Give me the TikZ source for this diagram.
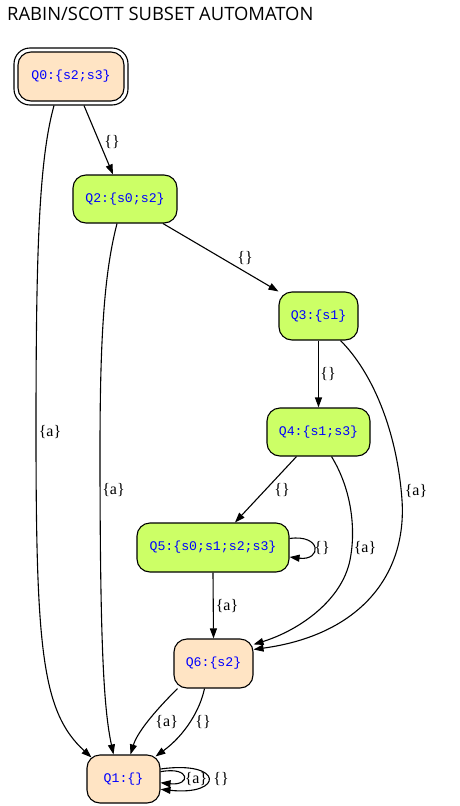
\documentclass[tikz,border=0pt]{standalone}
\usepackage{fontspec}
\setmainfont{Liberation Serif}
\newfontfamily\titlefont{Open Sans}
\newfontfamily\statefont{Liberation Mono}
\usetikzlibrary{arrows.meta,calc}
\definecolor{bisque}{HTML}{FFE4C4}
\definecolor{limefill}{HTML}{CCFF66}
\definecolor{qblue}{HTML}{0000FF}
\begin{document}
\begin{tikzpicture}[x=1pt,y=-1pt,
  statebox/.style={draw, line width=1.1pt, rounded corners=13pt, minimum height=48pt,
    inner sep=0pt, font=\statefont\fontsize{13.2}{13.2}\selectfont, text=qblue},
  palebox/.style={statebox, fill=bisque},
  limebox/.style={statebox, fill=limefill},
  outerbox/.style={draw, line width=1.1pt, rounded corners=16pt, inner sep=0pt},
  edge/.style={line width=1.1pt, -{Triangle[length=10pt,width=7pt]}},
  lbl/.style={font=\fontsize{16}{16}\selectfont, inner sep=0pt}]
\useasboundingbox (0,0) rectangle (459,806);
\fill[white] (0,0) rectangle (459,806);
\node[anchor=base west, inner sep=0pt, font=\titlefont\fontsize{18.4}{18.4}\selectfont] (title) at (7,20.5) {RABIN/SCOTT SUBSET AUTOMATON};

\node[outerbox, minimum width=114pt, minimum height=57pt] (q0o) at (71,76.5) {};
\node[palebox, minimum width=106pt, minimum height=49pt] (q0) at (71,76.5) {Q0:\{s2;s3\}};
\node[limebox, minimum width=104pt] (q2) at (125,199) {Q2:\{s0;s2\}};
\node[limebox, minimum width=79pt] (q3) at (318.5,316) {Q3:\{s1\}};
\node[limebox, minimum width=103pt] (q4) at (318.5,432) {Q4:\{s1;s3\}};
\node[limebox, minimum width=152pt, minimum height=49pt] (q5) at (213,547.5) {Q5:\{s0;s1;s2;s3\}};
\node[palebox, minimum width=79pt, minimum height=49pt] (q6) at (213.5,663.5) {Q6:\{s2\}};
\node[palebox, minimum width=73pt] (q1) at (123.5,779) {Q1:\{\}};

% edges
\draw[edge] ([xshift=13pt]q0o.south) -- ([xshift=-12pt]q2.north);
\draw[edge] ([xshift=-17pt]q0o.south) .. controls (39,160) and (36,250) .. (36,430)
  .. controls (36,650) and (42,712) .. ($(q1.north west)+(5,3)$);
\draw[edge] ([xshift=-8pt]q2.south) .. controls (105,270) and (100,330) .. (100,450)
  .. controls (100,650) and (104,710) .. ([xshift=-11.5pt]q2.south |- q1.north);
\draw[edge] ([xshift=38pt]q2.south) -- (q3.north west);
\draw[edge] (q3.south) -- (q4.north);
\draw[edge] ([xshift=22pt]q3.south) .. controls (372,372) and (397,430) .. (402,500)
  .. controls (407,575) and (360,635) .. ([yshift=-11pt]q6.north east);
\draw[edge] ([xshift=-22pt]q4.south) -- ([xshift=22pt]q5.north);
\draw[edge] ([xshift=13pt]q4.south) .. controls (352,490) and (356,530) .. (350,560)
  .. controls (342,600) and (300,630) .. ([yshift=-6pt]q6.north east);
\draw[edge] ([yshift=9pt]q5.east) .. controls (322,534) and (322,561) .. ([yshift=-9.5pt]q5.east);
\draw[edge] (q5.south) -- (q6.north);
\draw[edge] ([xshift=-36pt]q6.south) .. controls (160,706) and (138,730) .. ([xshift=7pt]q1.north);
\draw[edge] ([xshift=-9pt]q6.south) .. controls (200,710) and (185,735) .. ([xshift=32pt,yshift=-2pt]q1.north);
\draw[edge] ([yshift=7.3pt]q1.east) .. controls (191,766) and (191,786) .. ([yshift=-3.7pt]q1.east);
\draw[edge] ([yshift=10pt]q1.east) .. controls (224,760) and (224,796) .. ([yshift=-10.3pt]q1.east);

% labels
\node[lbl] (l02) at (112,142) {\{\}};
\node[lbl] (l01) at (50,432) {\{a\}};
\node[lbl] (l21) at (113.5,490) {\{a\}};
\node[lbl] (l23) at (245,258) {\{\}};
\node[lbl] (l34) at (328,374) {\{\}};
\node[lbl] (l36) at (416,491) {\{a\}};
\node[lbl] (l45) at (282,490) {\{\}};
\node[lbl] (l46) at (365,548) {\{a\}};
\node[lbl] (l55) at (322,548) {\{\}};
\node[lbl] (l56) at (227,606) {\{a\}};
\node[lbl] (l61a) at (166.7,722) {\{a\}};
\node[lbl] (l61b) at (203,722) {\{\}};
\node[lbl] (l11a) at (196,779.5) {\{a\}};
\node[lbl] (l11b) at (221,779.5) {\{\}};
\end{tikzpicture}
\end{document}
